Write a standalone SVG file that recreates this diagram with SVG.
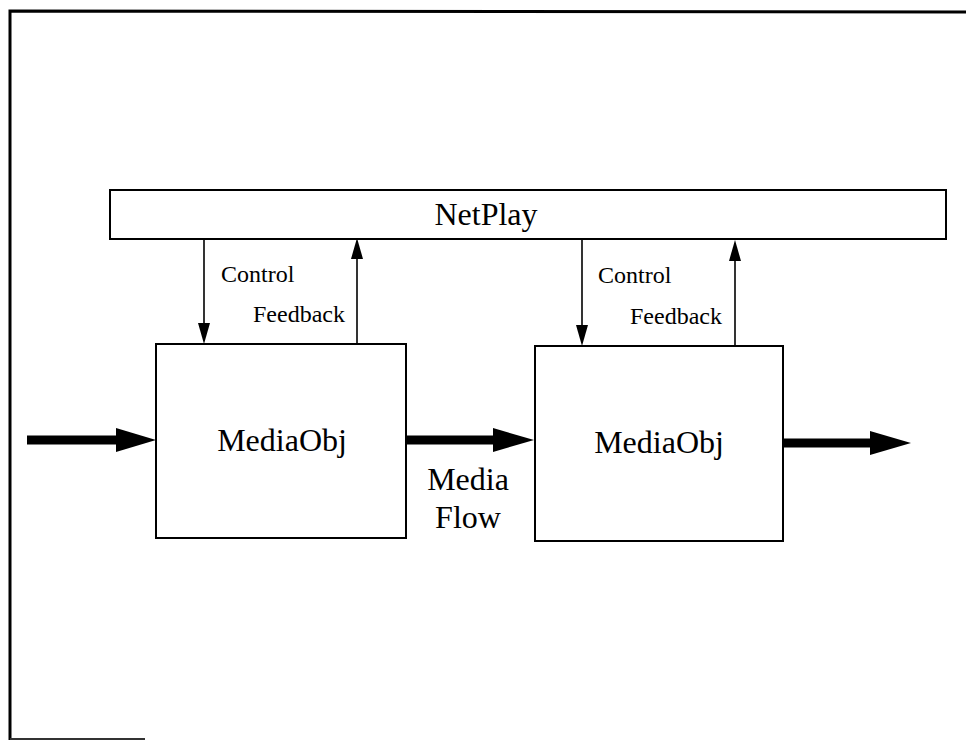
<svg xmlns="http://www.w3.org/2000/svg" width="966" height="740" viewBox="0 0 966 740">
  <style>
    .box { fill: #ffffff; stroke: #000000; stroke-width: 2; }
    .frame { fill: none; stroke: #000000; stroke-width: 3; }
    .thin { fill: none; stroke: #000000; stroke-width: 1.6; }
    .thick { fill: none; stroke: #000000; stroke-width: 9; }
    .head { fill: #000000; }
    .lbl { font-family: "Liberation Serif", "Times New Roman", serif; fill: #000000; }
    .big { font-size: 32px; text-anchor: middle; }
    .small { font-size: 24px; }
  </style>

  <rect width="966" height="740" fill="#ffffff"/>

  <!-- page frame -->
  <g id="frame">
    <path class="frame" d="M10,740 L10,11 L966,12"/>
    <path d="M10,739 L145,739" stroke="#333333" stroke-width="2" fill="none"/>
  </g>

  <!-- connectors -->
  <g id="connectors">
    <!-- control / feedback, first object -->
    <line class="thin" x1="204" y1="238" x2="204" y2="325"/>
    <polygon class="head" points="198,323 210,323 204,344"/>
    <line class="thin" x1="357" y1="344" x2="357" y2="257"/>
    <polygon class="head" points="351,259 363,259 357,238"/>

    <!-- control / feedback, second object -->
    <line class="thin" x1="582" y1="239" x2="582" y2="327"/>
    <polygon class="head" points="576,325 588,325 582,346"/>
    <line class="thin" x1="735" y1="346" x2="735" y2="259"/>
    <polygon class="head" points="729,261 741,261 735,240"/>

    <!-- media flow -->
    <line class="thick" x1="27" y1="440" x2="118" y2="440"/>
    <polygon class="head" points="116,428 156,440 116,452"/>
    <line class="thick" x1="406" y1="440" x2="495" y2="440"/>
    <polygon class="head" points="493,428 534,440 493,452"/>
    <line class="thick" x1="784" y1="443" x2="872" y2="443"/>
    <polygon class="head" points="870,431 911,443 870,455"/>
  </g>

  <g id="netplay">
    <rect class="box" x="110" y="190" width="836" height="49"/>
    <text class="lbl big" x="486" y="225" font-size="33">NetPlay</text>
  </g>

  <g id="mediaobj1">
    <rect class="box" x="156" y="344" width="250" height="194"/>
    <text class="lbl big" x="282" y="451">MediaObj</text>
  </g>

  <g id="mediaobj2">
    <rect class="box" x="535" y="346" width="248" height="195"/>
    <text class="lbl big" x="659" y="453">MediaObj</text>
  </g>

  <g id="labels">
    <text class="lbl small" x="221" y="282">Control</text>
    <text class="lbl small" x="253" y="322">Feedback</text>
    <text class="lbl small" x="598" y="283">Control</text>
    <text class="lbl small" x="630" y="324">Feedback</text>
    <text class="lbl big" x="468" y="490">Media</text>
    <text class="lbl big" x="468" y="528">Flow</text>
  </g>
</svg>
